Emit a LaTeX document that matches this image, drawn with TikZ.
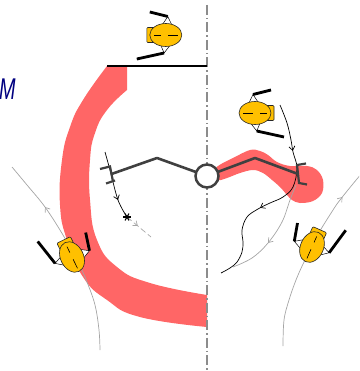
\documentclass[tikz,border=0pt]{standalone}
\usepackage{fontspec}
\setsansfont{Liberation Sans}
\usetikzlibrary{arrows.meta,decorations.markings}

\definecolor{bandred}{RGB}{255,102,102}
\definecolor{helmet}{RGB}{255,192,0}
\definecolor{armgray}{RGB}{64,64,64}
\definecolor{axisgray}{RGB}{140,140,140}
\definecolor{trackgray}{RGB}{165,165,165}
\definecolor{labelnavy}{RGB}{0,0,128}

\tikzset{
  redband/.style={fill=bandred},
  sleeve/.style={fill=white, draw=black, line width=0.5pt},
  pole/.style={draw=black, line width=2.8pt},
  body/.style={fill=helmet, draw=black!85, line width=0.6pt},
  arm/.style={draw=armgray, line width=2.6pt, line join=round},
  paddle/.style={draw=armgray, line width=2.2pt},
  track/.style={color=black, line width=0.7pt},
  lighttrack/.style={color=trackgray, line width=0.7pt},
  midarrow/.style={postaction={decorate, decoration={markings,
      mark=at position #1 with {\arrow{Straight Barb[length=4pt,width=6pt]}}}}},
  skater/.pic={
    % shoulders and poles
    \filldraw[sleeve] (-5,-8) -- (2,-18.5) -- (7,-8) -- cycle;
    \filldraw[sleeve] (-6,8) -- (-1.7,18) -- (6,8) -- cycle;
    \draw[pole] (2,-18.5) -- (-16,-23);
    \draw[pole] (-1.7,18) -- (-29,24);
    % backpack and helmet
    \filldraw[body, rounded corners=1pt] (-19,-7.5) rectangle (-10,7.5);
    \filldraw[body] (0,0) ellipse [x radius=16, y radius=11.5];
    \draw[black, line width=0.6pt] (-11.5,0) -- (-5,0) (2.5,0) -- (12.5,0);
  }
}

\begin{document}
\begin{tikzpicture}[x=1pt,y=-1pt]
\useasboundingbox (0,0) rectangle (359,371);
\clip (0,0) rectangle (359,371);

% label
\node[anchor=base west, inner sep=0, text=labelnavy, xscale=0.66,
      font=\sffamily\itshape\fontsize{30}{30}\selectfont] (mlabel) at (-1,100) {M};

% red half ring on the left
\fill[redband] plot[smooth, tension=0.8] coordinates {(107,66) (83,100) (70,127) (62,160) (60,205) (67,240) (83,277) (107,300) (140,317) (207,327)}
  -- (207,295)
  -- plot[smooth, tension=0.8] coordinates {(207,295) (150,283) (117,267) (97,240) (90,200) (90,160) (95,133) (107,110) (127,90)}
  -- (127,66) -- cycle;

% red blob along the right arm
\fill[redband] plot[smooth cycle, tension=0.6] coordinates {(218,166) (233,158) (250,150) (260,151) (268,155) (277,162) (290,166) (307,166) (317,170) (323,180) (322,193) (313,201) (300,203) (292,200) (287,195) (280,187) (272,180) (263,173) (253,170) (240,173) (227,178) (218,180) (214,173)};

% symmetry axis
\draw[axisgray, line width=1.1pt, dash pattern=on 10pt off 3pt on 1.5pt off 3pt] (207,5) -- (207,371);

% top bar
\draw[black, line width=2pt] (107,66.5) -- (207,66.5);

% grey tracks
\draw[lighttrack, midarrow=0.75] plot[smooth, tension=0.6] coordinates {(100,350) (99,330) (95,305) (87,282) (78,262) (63,235) (45,207) (27,185) (12,167)};
\draw[lighttrack, midarrow=0.84] plot[smooth, tension=0.6] coordinates {(283,346) (284,320) (289,300) (296,280) (304,262) (317,236) (333,210) (340,200) (352,185) (362,173)};
\draw[lighttrack, midarrow=0.6] plot[smooth, tension=0.6] coordinates {(296,185) (290,200) (282,222) (268,243) (252,258) (233,267)};

% black tracks
\draw[track, midarrow=0.23, midarrow=0.6] plot[smooth, tension=0.6] coordinates {(280,105) (287,123) (291,140) (293,152) (297,168) (293,187) (283,197) (270,203) (258,209) (247,217) (242,230) (243,242) (242,252) (237,262) (230,268) (221,273)};
\draw[track, midarrow=0.72] plot[smooth, tension=0.6] coordinates {(105,152) (110,170) (118,200) (127,217)};
\draw[lighttrack, dash pattern=on 6pt off 3pt, midarrow=0.45] (127,217) -- (151,237);
\foreach \a in {0,60,120}
  \draw[black, line width=1.1pt, rotate around={\a:(127,217)}] (123,217) -- (131,217);

% arms
\draw[arm] (207,176) -- (157,158) -- (111.5,174);
\draw[arm] (207,176) -- (255,158) -- (298,174);
% paddles
\draw[paddle] (100,169) -- (110,166.5) -- (113,181.5);
\draw[paddle] (106,183.5) -- (115,180.5);
\draw[paddle] (306,163.5) -- (297,165) -- (299,183) -- (307,184.5);

% centre pivot
\filldraw[draw=armgray, fill=white, line width=2.5pt] (207,176) circle [radius=11.5];

% skaters
\pic at (165.8,35) {skater};
\pic[xscale=-1] at (255,113) {skater};
\pic[rotate=-64] at (72,257) {skater};
\pic[rotate=66, xscale=-1] at (312,247) {skater};
\end{tikzpicture}
\end{document}
